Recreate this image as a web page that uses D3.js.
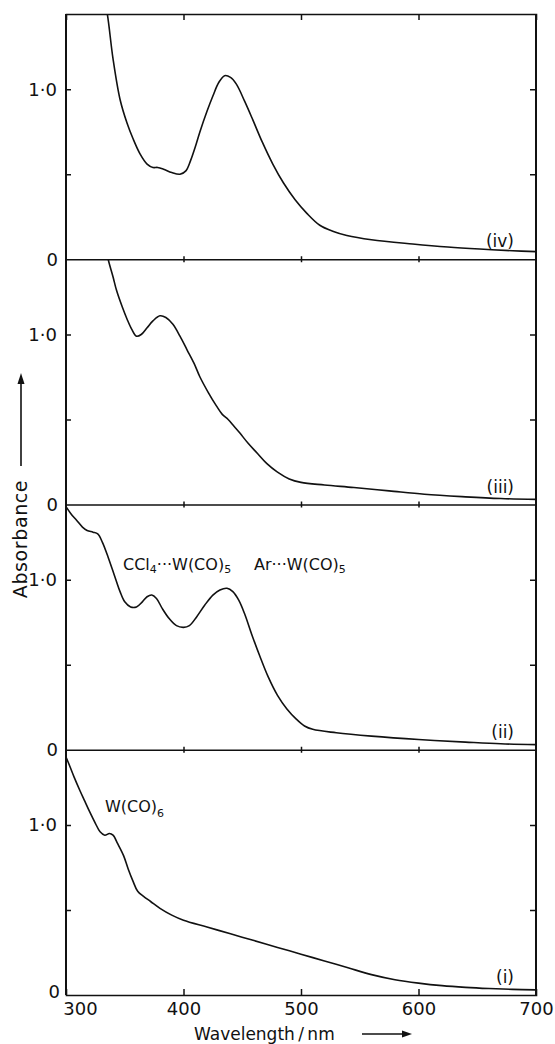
<!DOCTYPE html>
<html><head><meta charset="utf-8">
<script src="https://cdn.jsdelivr.net/npm/d3@7"></script>
<style>
html,body{margin:0;padding:0;background:#fff;}
svg{display:block;}
text{font-family:"DejaVu Sans",sans-serif;fill:#111;}
</style></head>
<body>
<svg id="chart" width="555" height="1044"></svg>
<script>
// ---- data ----
const xTicks = [300, 400, 500, 600, 700];
const yTickLabels = ["0", "1·0"];
const panelLabels = ["(i)", "(ii)", "(iii)", "(iv)"];

const wlI  = [300,303,307,312,316,320,325,329,333,337,340,344,349,353,357,361,366,372,380,390,400,420,440,460,480,500,520,540,560,580,600,620,640,660,680,700];
const absI = [1.40,1.35,1.28,1.20,1.14,1.08,1.01,0.96,0.94,0.95,0.94,0.89,0.82,0.74,0.67,0.61,0.58,0.55,0.51,0.47,0.44,0.40,0.36,0.32,0.28,0.24,0.20,0.16,0.12,0.09,0.07,0.055,0.045,0.038,0.033,0.03];

const wlII  = [300,304,309,314,318,323,327,331,336,341,346,350,355,360,365,369,373,377,382,388,394,400,405,411,418,425,431,437,442,447,452,458,465,472,480,488,496,503,510,530,560,600,640,670,700];
const absII = [1.43,1.39,1.35,1.31,1.29,1.28,1.27,1.22,1.13,1.03,0.93,0.87,0.84,0.84,0.87,0.90,0.91,0.89,0.83,0.77,0.73,0.72,0.73,0.78,0.85,0.91,0.94,0.95,0.93,0.88,0.80,0.68,0.55,0.43,0.32,0.24,0.18,0.14,0.12,0.10,0.08,0.06,0.045,0.035,0.03];

const wlIII  = [333,336,340,343,348,352,356,360,364,369,374,380,385,391,397,403,409,414,421,428,433,438,443,448,455,463,471,480,490,500,520,545,575,605,640,670,700];
const absIII = [1.55,1.44,1.34,1.26,1.16,1.09,1.03,0.99,1.00,1.04,1.08,1.11,1.10,1.06,0.99,0.91,0.83,0.75,0.66,0.58,0.53,0.50,0.46,0.42,0.36,0.30,0.24,0.19,0.15,0.13,0.115,0.10,0.08,0.06,0.045,0.035,0.03];

const wlIV  = [330,335,340,346,352,357,363,369,374,378,383,390,397,402,406,410,414,420,425,430,435,440,445,452,459,467,476,485,495,505,516,527,539,560,595,625,652,680,700];
const absIV = [1.62,1.45,1.18,0.94,0.80,0.71,0.62,0.56,0.54,0.54,0.53,0.51,0.50,0.52,0.58,0.66,0.75,0.87,0.96,1.04,1.08,1.07,1.03,0.93,0.82,0.69,0.56,0.45,0.35,0.27,0.20,0.165,0.14,0.115,0.09,0.072,0.06,0.05,0.045];

const seriesWl  = [wlI, wlII, wlIII, wlIV];
const seriesAbs = [absI, absII, absIII, absIV];

// ---- layout ----
const svg = d3.select("#chart");
const plotLeft = 66, plotRight = 536, plotTop = 14, plotBottom = 995;
const nPanels = 4;
const panelH = (plotBottom - plotTop) / nPanels;
const yMax = panelH / 170;

const x = d3.scaleLinear().domain([300, 700]).range([plotLeft, plotRight]);

const defs = svg.append("defs");

for (let p = 0; p < nPanels; p++) {
  const zeroY = plotBottom - p * panelH;
  const topY = zeroY - panelH;
  const y = d3.scaleLinear().domain([0, yMax]).range([zeroY, topY]);
  const g = svg.append("g");

  defs.append("clipPath").attr("id", "clip" + p)
    .append("rect").attr("x", plotLeft).attr("y", topY).attr("width", plotRight - plotLeft).attr("height", panelH);

  // baseline (zero line) with tick marks
  const base = d3.axisBottom(x).tickValues(p === 0 ? xTicks : [400, 500, 600])
    .tickSize(p === 0 ? -6 : 0).tickFormat(p === 0 ? d3.format("d") : "");
  const bg = g.append("g").attr("transform", `translate(0,${zeroY})`).call(base);
  bg.select(".domain").attr("stroke", "#111").attr("stroke-width", 1.6);
  if (p !== 0) {
    bg.selectAll(".tick line").attr("y1", -3).attr("y2", 3).attr("stroke", "#111").attr("stroke-width", 1.5);
  } else {
    bg.selectAll(".tick line").attr("stroke", "#111").attr("stroke-width", 1.5);
    bg.selectAll(".tick line").filter(d => d === 300 || d === 700).remove();
    bg.selectAll(".tick text").attr("dy", "0.95em").attr("font-size", 18).attr("fill", "#111")
      .style("font-family", '"DejaVu Sans",sans-serif');
  }

  // left axis ticks inside
  const la = d3.axisLeft(y).tickValues([0.5, 1.0]).tickSize(-5).tickFormat("");
  const lg = g.append("g").attr("transform", `translate(${plotLeft},0)`).call(la);
  lg.select(".domain").remove();
  lg.selectAll(".tick line").attr("stroke", "#111").attr("stroke-width", 1.5);

  // right axis ticks inside
  const ra = d3.axisRight(y).tickValues([0.5, 1.0]).tickSize(-6).tickFormat("");
  const rg = g.append("g").attr("transform", `translate(${plotRight},0)`).call(ra);
  rg.select(".domain").remove();
  rg.selectAll(".tick line").attr("stroke", "#111").attr("stroke-width", 1.5);

  // tick labels
  g.append("text").attr("x", plotLeft - 9).attr("y", y(1.0)).attr("dy", "0.36em")
    .attr("text-anchor", "end").attr("font-size", 18).text(yTickLabels[1]);
  g.append("text").attr("x", plotLeft - (p === 0 ? 6 : 8)).attr("y", y(0)).attr("dy", p === 0 ? "0.15em" : "0.36em")
    .attr("text-anchor", "end").attr("font-size", 18).text(yTickLabels[0]);

  // curve
  const line = d3.line().x(d => x(d[0])).y(d => y(d[1])).curve(d3.curveCatmullRom.alpha(0.5));
  const pts = seriesWl[p].map((w, i) => [w, seriesAbs[p][i]]);
  g.append("path").datum(pts).attr("d", line).attr("fill", "none")
    .attr("stroke", "#111").attr("stroke-width", 1.6).attr("clip-path", `url(#clip${p})`);

  // panel label
  g.append("text").attr("x", 514).attr("y", zeroY - 12).attr("text-anchor", "end")
    .attr("font-size", 17).text(panelLabels[p]);
}

// shift the 300 label
svg.selectAll(".tick text").filter(d => d === 300).attr("dx", 14);

// top border with ticks
const topAxis = d3.axisTop(x).tickValues([400, 500, 600]).tickSize(-6).tickFormat("");
const tg = svg.append("g").attr("transform", `translate(0,${plotTop})`).call(topAxis);
tg.select(".domain").attr("stroke", "#111").attr("stroke-width", 1.6);
tg.selectAll(".tick line").attr("stroke", "#111").attr("stroke-width", 1.5);

// left and right frame lines
svg.append("line").attr("x1", plotLeft).attr("x2", plotLeft).attr("y1", plotTop).attr("y2", plotBottom)
  .attr("stroke", "#111").attr("stroke-width", 2);
svg.append("line").attr("x1", plotRight).attr("x2", plotRight).attr("y1", plotTop).attr("y2", plotBottom)
  .attr("stroke", "#111").attr("stroke-width", 2);

// annotations
const ann = svg.append("g").attr("font-size", 16);
const t1 = ann.append("text").attr("x", 123).attr("y", 570);
t1.append("tspan").text("CCl");
t1.append("tspan").attr("font-size", 11).attr("dy", 3).text("4");
t1.append("tspan").attr("dy", -3).text("···W(CO)");
t1.append("tspan").attr("font-size", 11).attr("dy", 3).text("5");
const t2 = ann.append("text").attr("x", 254).attr("y", 570);
t2.append("tspan").text("Ar···W(CO)");
t2.append("tspan").attr("font-size", 11).attr("dy", 3).text("5");
const t3 = ann.append("text").attr("x", 105).attr("y", 812);
t3.append("tspan").text("W(CO)");
t3.append("tspan").attr("font-size", 11).attr("dy", 5).text("6");

// y-axis title with arrow
svg.append("text").attr("transform", "translate(27,539) rotate(-90)")
  .attr("text-anchor", "middle").attr("font-size", 19).attr("letter-spacing", 0.6).text("Absorbance");
svg.append("line").attr("x1", 21).attr("x2", 21).attr("y1", 466).attr("y2", 382)
  .attr("stroke", "#111").attr("stroke-width", 1.6);
svg.append("path").attr("d", "M21,373 L17.5,384 L24.5,384 Z").attr("fill", "#111");

// x-axis title with arrow
svg.append("text").attr("x", 194).attr("y", 1040).attr("font-size", 17).text("Wavelength\u2009/\u2009nm");
svg.append("line").attr("x1", 362).attr("x2", 404).attr("y1", 1034).attr("y2", 1034)
  .attr("stroke", "#111").attr("stroke-width", 1.6);
svg.append("path").attr("d", "M412,1034 L402,1030.5 L402,1037.5 Z").attr("fill", "#111");
</script>
</body></html>
